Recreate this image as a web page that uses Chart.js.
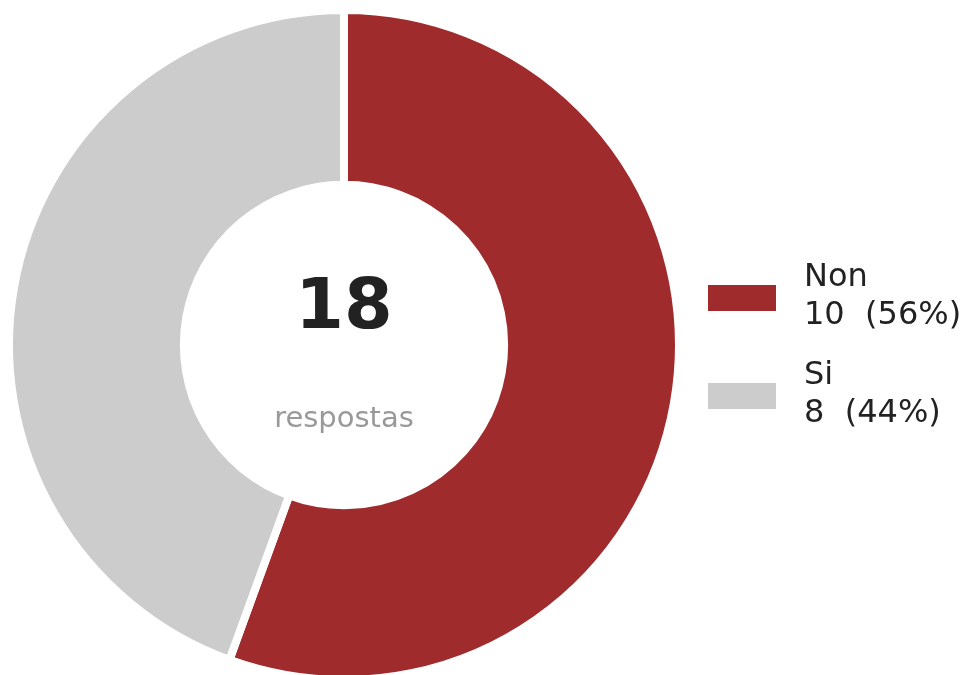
<!DOCTYPE html>
<html>
<head>
<meta charset="utf-8">
<script src="https://cdn.jsdelivr.net/npm/chart.js@4/dist/chart.umd.min.js"></script>
<style>
  html, body { margin: 0; padding: 0; background: #fff; overflow: hidden; }
  #wrap { position: relative; width: 970px; height: 690px; }
</style>
</head>
<body>
<div id="wrap"><canvas id="c" width="970" height="690"></canvas></div>
<script>
const categories = ["Non", "Si"];
const counts = [10, 8];
const colors = ["#A02B2D", "#CCCCCC"];
const centerLabel = "respostas";

const total = counts.reduce((a, b) => a + b, 0);
const legendLines = categories.map((c, i) => [c, counts[i] + "  (" + Math.round(counts[i] / total * 100) + "%)"]);

const overlay = {
  id: "overlay",
  afterDraw(chart) {
    const ctx = chart.ctx;
    const arc = chart.getDatasetMeta(0).data[0];
    const cx = arc.x, cy = arc.y;
    ctx.save();
    ctx.textAlign = "center";
    ctx.textBaseline = "middle";
    ctx.fillStyle = "#222222";
    ctx.font = "bold 70px 'DejaVu Sans'";
    ctx.fillText(String(total), cx, cy - 35);
    ctx.fillStyle = "#999999";
    ctx.font = "29px 'DejaVu Sans'";
    ctx.fillText(centerLabel, cx, cy + 74);

    ctx.textAlign = "left";
    ctx.font = "32px 'DejaVu Sans'";
    legendLines.forEach((lines, i) => {
      const y0 = 298 + i * 98;
      ctx.fillStyle = colors[i];
      ctx.fillRect(708, y0 - 13, 68, 26);
      ctx.fillStyle = "#222222";
      ctx.fillText(lines[0], 804, y0 - 20);
      ctx.fillText(lines[1], 804, y0 + 18);
    });
    ctx.restore();
  }
};

new Chart(document.getElementById("c"), {
  type: "doughnut",
  data: {
    labels: categories,
    datasets: [{
      data: counts,
      backgroundColor: colors,
      borderColor: "#ffffff",
      borderWidth: 8,
      hoverBorderWidth: 8,
      hoverOffset: 0
    }]
  },
  options: {
    responsive: false,
    animation: false,
    cutout: "47.8%",
    layout: { padding: { left: 5, top: 6, right: 287, bottom: 6 } },
    plugins: { legend: { display: false }, tooltip: { enabled: false } },
    events: []
  },
  plugins: [overlay]
});
</script>
</body>
</html>
